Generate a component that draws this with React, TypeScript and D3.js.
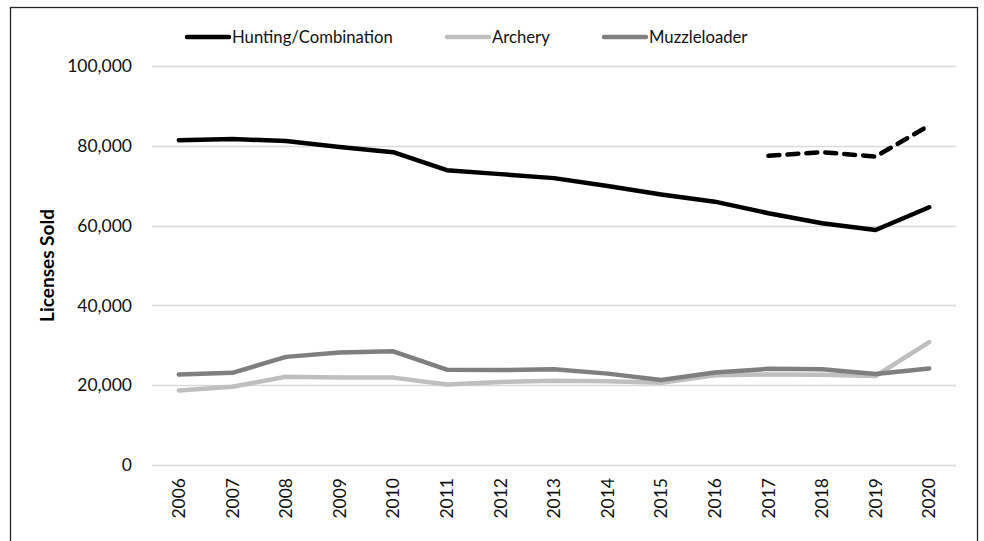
import React, { useRef, useEffect } from "react";
import * as d3 from "d3";

const years = ["2006", "2007", "2008", "2009", "2010", "2011", "2012", "2013", "2014", "2015", "2016", "2017", "2018", "2019", "2020"];
const hunting = [81400, 81700, 81200, 79700, 78400, 73900, 72900, 71900, 69900, 67800, 66000, 63100, 60600, 58900, 64600];
const huntingDashed = [null, null, null, null, null, null, null, null, null, null, null, 77500, 78400, 77300, 85100];
const archery = [18700, 19600, 22100, 21900, 21900, 20200, 20800, 21100, 21000, 20600, 22500, 22700, 22600, 22300, 30800];
const muzzleloader = [22700, 23100, 27100, 28200, 28500, 23900, 23800, 24000, 22900, 21300, 23200, 24100, 24000, 22800, 24200];
const yTicks = [0, 20000, 40000, 60000, 80000, 100000];

const FONT = "Lato, 'Open Sans', sans-serif";

export default function App() {
  const svgRef = useRef<SVGSVGElement>(null);
  const width = 984;
  const height = 541;

  useEffect(() => {
    const svg = d3.select(svgRef.current);
    svg.selectAll("*").remove();

    const margin = { left: 152, right: 28, top: 66, bottom: 76 };

    // outer frame
    svg.append("rect")
      .attr("x", 10.5)
      .attr("y", 7.5)
      .attr("width", 967)
      .attr("height", 560)
      .attr("fill", "#fff")
      .attr("stroke", "#262626")
      .attr("stroke-width", 1.3);

    const x = d3.scaleBand<string>()
      .domain(years)
      .range([margin.left, width - margin.right]);

    const y = d3.scaleLinear()
      .domain([0, 100000])
      .range([height - margin.bottom, margin.top]);

    const cx = (d: string) => (x(d) as number) + x.bandwidth() / 2;

    // gridlines
    svg.append("g")
      .selectAll("line")
      .data(yTicks)
      .join("line")
      .attr("x1", margin.left)
      .attr("x2", width - margin.right)
      .attr("y1", (d) => Math.round(y(d)) + 0.5)
      .attr("y2", (d) => Math.round(y(d)) + 0.5)
      .attr("stroke", "#d9d9d9")
      .attr("stroke-width", 1.3);

    // y tick labels
    svg.append("g")
      .selectAll("text")
      .data(yTicks)
      .join("text")
      .attr("x", 132)
      .attr("y", (d) => y(d))
      .attr("dy", "0.35em")
      .attr("text-anchor", "end")
      .attr("font-family", FONT)
      .attr("font-size", "17.5px")
      .attr("fill", "#111")
      .text((d) => d3.format(",")(d));

    // x tick labels
    svg.append("g")
      .selectAll("text")
      .data(years)
      .join("text")
      .attr("transform", (d) => `translate(${cx(d)},${478}) rotate(-90)`)
      .attr("dy", "0.35em")
      .attr("text-anchor", "end")
      .attr("font-family", FONT)
      .attr("font-size", "17.5px")
      .attr("fill", "#111")
      .text((d) => d);

    // y axis title
    svg.append("text")
      .attr("transform", `translate(47,${(y(0) + y(100000)) / 2}) rotate(-90)`)
      .attr("dy", "0.35em")
      .attr("text-anchor", "middle")
      .attr("font-family", FONT)
      .attr("font-size", "19px")
      .attr("font-weight", "700")
      .attr("fill", "#000")
      .text("Licenses Sold");

    const line = d3.line<number | null>()
      .defined((d) => d != null)
      .x((_, i) => cx(years[i]))
      .y((d) => y(d as number));

    const series = [
      { data: archery, color: "#bfbfbf", dash: null },
      { data: muzzleloader, color: "#7f7f7f", dash: null },
      { data: hunting, color: "#000000", dash: null },
      { data: huntingDashed, color: "#000000", dash: "11,8" },
    ];

    series.forEach((s) => {
      svg.append("path")
        .datum(s.data)
        .attr("d", line)
        .attr("fill", "none")
        .attr("stroke", s.color)
        .attr("stroke-width", 4.5)
        .attr("stroke-linejoin", "round")
        .attr("stroke-linecap", "round")
        .attr("stroke-dasharray", s.dash);
    });

    // legend
    const legend = [
      { name: "Hunting/Combination", color: "#000000", x: 187 },
      { name: "Archery", color: "#bfbfbf", x: 447 },
      { name: "Muzzleloader", color: "#7f7f7f", x: 604 },
    ];
    const lg = svg.append("g");
    legend.forEach((l) => {
      lg.append("line")
        .attr("x1", l.x)
        .attr("x2", l.x + 42)
        .attr("y1", 37)
        .attr("y2", 37)
        .attr("stroke", l.color)
        .attr("stroke-width", 4.5)
        .attr("stroke-linecap", "round");
      lg.append("text")
        .attr("x", l.x + 45)
        .attr("y", 37)
        .attr("dy", "0.35em")
        .attr("font-family", FONT)
        .attr("font-size", "16.7px")
        .attr("fill", "#111")
        .text(l.name);
    });
  }, []);

  return (
    <svg
      ref={svgRef}
      width={width}
      height={height}
      style={{ position: "absolute", left: 0, top: 0, background: "#fff" }}
    />
  );
}
